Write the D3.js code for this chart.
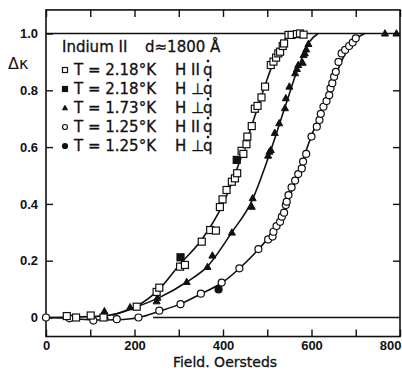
<!DOCTYPE html>
<html>
<head>
<meta charset="utf-8">
<script src="https://cdn.jsdelivr.net/npm/d3@7"></script>
<style>
  html, body { margin: 0; padding: 0; background: #fff; }
  svg { display: block; font-family: 'DejaVu Sans', sans-serif; }
</style>
</head>
<body>
<div id="chart"></div>
<script>
// field (Oe), delta kappa
const sq218Par = [[47,0.005],[68,0.0],[101,0.007],[130,0.0],[205,0.038],[250,0.09],[256,0.105],[303,0.179],[314,0.185],
  [352,0.267],[371,0.308],[384,0.306],[393,0.389],[399,0.416],[408,0.449],[420,0.478],[427,0.49],[432,0.508],
  [442,0.587],[446,0.576],[453,0.61],[455,0.637],[465,0.674],[472,0.735],[478,0.745],[487,0.775],[495,0.813],
  [508,0.889],[514,0.901],[520,0.915],[525,0.93],[529,0.936],[535,0.956],[538,0.965],[548,0.995],[555,0.995],
  [567,0.998],[574,1.0],[582,0.996]];
const sq218Perp = [[304,0.212],[431,0.555]];
const tri173Perp = [[132,0.022],[133,0.005],[190,0.036],[250,0.057],[252,0.07],[318,0.125],[365,0.178],[376,0.218],
  [420,0.299],[465,0.39],[467,0.42],[502,0.57],[505,0.584],[508,0.59],[517,0.65],[527,0.684],[540,0.737],
  [542,0.772],[550,0.813],[563,0.86],[567,0.875],[570,0.889],[580,0.897],[582,0.924],[585,0.93],[588,0.944],
  [593,0.963],[766,1.0],[792,1.0]];
const circ125Par = [[0,0],[53,-0.003],[107,-0.011],[160,-0.006],[209,0.0],[256,0.024],[304,0.047],[350,0.084],
  [397,0.123],[437,0.173],[480,0.241],[502,0.275],[512,0.285],[514,0.302],[521,0.322],[529,0.337],[533,0.355],
  [538,0.369],[542,0.396],[544,0.408],[548,0.431],[555,0.458],[563,0.482],[570,0.505],[578,0.525],[581,0.549],
  [588,0.576],[600,0.637],[612,0.672],[618,0.695],[621,0.717],[627,0.742],[634,0.762],[640,0.783],[643,0.807],
  [647,0.825],[651,0.848],[655,0.865],[661,0.9],[668,0.93],[676,0.942],[685,0.956],[693,0.968],[700,0.983]];
const circ125Perp = [[390,0.099]];

// hand-drawn fit curves
const sqCurve = [[0,0],[100,0.003],[150,0.01],[205,0.04],[256,0.1],[304,0.19],[350,0.27],[400,0.4],[440,0.56],
  [470,0.7],[500,0.84],[525,0.94],[550,0.99],[580,1.0]];
const triCurve = [[150,0.008],[200,0.035],[256,0.07],[318,0.125],[365,0.18],[420,0.3],[465,0.41],[505,0.575],
  [540,0.74],[570,0.88],[595,0.97],[615,1.0]];
const circCurve = [[0,0],[60,-0.004],[110,-0.009],[160,-0.008],[210,0.0],[256,0.022],[304,0.048],[350,0.083],
  [400,0.125],[440,0.177],[480,0.24],[520,0.32],[560,0.465],[600,0.64],[640,0.79],[670,0.91],[700,0.98],[720,1.0]];
const topLine = [[0,1],[800,1]];
const baseLine = [[242,0],[800,0]];

const xTicks = [0,100,200,300,400,500,600,700,800];
const yTicks = [0,0.2,0.4,0.6,0.8,1.0];
const legendRows = [
  { sym: 'sqOpen', t: 'T = 2.18°K', h: 'H II' },
  { sym: 'sqFill', t: 'T = 2.18°K', h: 'H ⊥' },
  { sym: 'triFill', t: 'T = 1.73°K', h: 'H ⊥' },
  { sym: 'circOpen', t: 'T = 1.25°K', h: 'H II' },
  { sym: 'circFill', t: 'T = 1.25°K', h: 'H ⊥' }
];

const W = 402, H = 371;
const svg = d3.select('#chart').append('svg').attr('width', W).attr('height', H);

const x = d3.scaleLinear().domain([0, 800]).range([46, 400]);
const y = d3.scaleLinear().domain([0, 1]).range([317.5, 33.5]);
const yMin = -0.067, yMax = 1.083;

// frame
svg.append('rect')
  .attr('x', x(0)).attr('y', y(yMax))
  .attr('width', x(800) - x(0)).attr('height', y(yMin) - y(yMax))
  .attr('fill', 'none').attr('stroke', '#111').attr('stroke-width', 1.6);

// axes
svg.append('g').attr('transform', `translate(0,${y(yMin)})`)
  .call(d3.axisBottom(x).tickValues(xTicks).tickSize(-7).tickPadding(4)
    .tickFormat(d => d % 200 === 0 ? d : ''))
  .selectAll('.tick text').filter(d => d === 800)
    .attr('text-anchor', 'end').attr('dx', 1);
svg.append('g').attr('transform', `translate(0,${y(yMax)})`)
  .call(d3.axisTop(x).tickValues(xTicks).tickSize(-7).tickFormat(''));
svg.append('g').attr('transform', `translate(${x(0)},0)`)
  .call(d3.axisLeft(y).tickValues(yTicks).tickSize(-7).tickPadding(8)
    .tickFormat(d => d === 0 ? '0' : d3.format('.1f')(d)));
svg.append('g').attr('transform', `translate(${x(800)},0)`)
  .call(d3.axisRight(y).tickValues([0.2,0.4,0.6,0.8]).tickSize(-7).tickFormat(''));

svg.selectAll('.domain').remove();
svg.selectAll('.tick line').attr('stroke', '#111').attr('stroke-width', 1.4);
svg.selectAll('.tick text').attr('fill', '#111').style('font-size', '13px').style('font-weight', 'bold');

// axis titles
svg.append('text').attr('x', 225).attr('y', 367).attr('text-anchor', 'middle')
  .style('font-size', '14px').attr('fill', '#111').attr('stroke', '#111').attr('stroke-width', 0.3)
  .text('Field. Oersteds');
svg.append('text').attr('x', 8).attr('y', 69)
  .style('font-size', '16px').attr('fill', '#111').text('Δκ');

// curves
const line = d3.line().x(d => x(d[0])).y(d => y(d[1]));
const smooth = d3.line().x(d => x(d[0])).y(d => y(d[1])).curve(d3.curveMonotoneX);
[topLine, baseLine].forEach(l => svg.append('path').datum(l).attr('d', line)
  .attr('fill', 'none').attr('stroke', '#111').attr('stroke-width', 1.3));
[sqCurve, triCurve, circCurve].forEach(c => svg.append('path').datum(c).attr('d', smooth)
  .attr('fill', 'none').attr('stroke', '#111').attr('stroke-width', 1.6));

// markers
function marker(g, sym, cx, cy, s) {
  if (sym.startsWith('sq')) {
    g.append('rect').attr('x', cx - s / 2).attr('y', cy - s / 2).attr('width', s).attr('height', s)
      .attr('fill', sym === 'sqFill' ? '#111' : '#fff').attr('stroke', '#111').attr('stroke-width', 1.2);
  } else if (sym.startsWith('circ')) {
    g.append('circle').attr('cx', cx).attr('cy', cy).attr('r', s / 2)
      .attr('fill', sym === 'circFill' ? '#111' : '#fff').attr('stroke', '#111').attr('stroke-width', 1.2);
  } else {
    const h = s * 0.9;
    g.append('path').attr('d', `M${cx},${cy - h * 0.6}L${cx + s / 2},${cy + h * 0.4}L${cx - s / 2},${cy + h * 0.4}Z`)
      .attr('fill', '#111').attr('stroke', '#111').attr('stroke-width', 1);
  }
}
const pts = svg.append('g');
circ125Par.forEach(d => marker(pts, 'circOpen', x(d[0]), y(d[1]), 7));
tri173Perp.forEach(d => marker(pts, 'triFill', x(d[0]), y(d[1]), 7));
sq218Par.forEach(d => marker(pts, 'sqOpen', x(d[0]), y(d[1]), 7));
sq218Perp.forEach(d => marker(pts, 'sqFill', x(d[0]), y(d[1]), 7));
circ125Perp.forEach(d => marker(pts, 'circFill', x(d[0]), y(d[1]), 7));

// legend
const lg = svg.append('g').attr('fill', '#111').attr('stroke', '#111').attr('stroke-width', 0.3)
  .style('font-size', '15px');
lg.append('text').attr('x', 62).attr('y', 52).text('Indium II');
lg.append('text').attr('x', 145).attr('y', 52).text('d≈1800 Å');
legendRows.forEach((r, i) => {
  const cy = 70 + i * 19;
  marker(lg, r.sym, 65, cy, 5);
  lg.append('text').attr('x', 74).attr('y', cy + 5).text(r.t);
  lg.append('text').attr('x', 175).attr('y', cy + 5).text(r.h);
  lg.append('text').attr('x', 203).attr('y', cy + 5).text('q');
  lg.append('circle').attr('cx', 208).attr('cy', cy - 9).attr('r', 1.2).attr('fill', '#111');
});
</script>
</body>
</html>
